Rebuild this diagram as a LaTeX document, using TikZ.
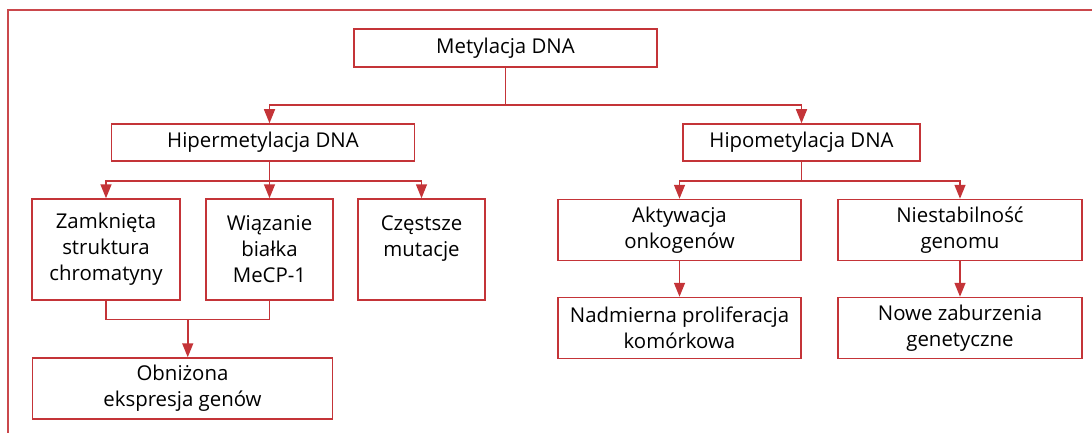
\documentclass[tikz,border=0pt]{standalone}
\usepackage{fontspec}
\setmainfont{Open Sans}
\usetikzlibrary{arrows.meta,calc,positioning}
\definecolor{boxred}{RGB}{196,52,56}

\begin{document}
\begin{tikzpicture}[
  x=0.5pt, y=-0.5pt,
  block/.style={rectangle, draw=boxred, line width=0.75pt, align=center,
    inner sep=2pt, font=\fontsize{10.2}{13}\selectfont},
  arr/.style={draw=boxred, line width=0.75pt, -{Triangle[width=5.5pt,length=7pt]}},
  link/.style={draw=boxred, line width=0.75pt}
  ]
  \useasboundingbox (0,0) rectangle (1092,433);
  \draw[boxred!90, line width=1pt] (8,433) -- (8,10.5) -- (1092,10.5);

  \node[block, minimum width=151.5pt, minimum height=19pt] (meta) at (505.5,48) {Metylacja DNA};
  \node[block, minimum width=151.5pt, minimum height=18.5pt] (hiper) at (263,142.5) {Hipermetylacja DNA};
  \node[block, minimum width=118.5pt, minimum height=18.5pt] (hipo) at (801.5,142.5) {Hipometylacja DNA};

  \node[block, minimum width=74pt, minimum height=50.5pt] (zamk) at (106,249.5) {Zamknięta\\struktura\\chromatyny};
  \node[block, minimum width=63.5pt, minimum height=50.5pt] (wiaz) at (269.5,249.5) {Wiązanie\\białka\\MeCP-1};
  \node[block, minimum width=63.5pt, minimum height=50.5pt] (czest) at (421.5,249.5) {Częstsze\\mutacje\\\phantom{M}};
  \node[block, minimum width=150pt, minimum height=30.5pt] (obniz) at (182.5,388.5) {Obniżona\\ekspresja genów};

  \node[block, minimum width=121.5pt, minimum height=30.5pt] (aktyw) at (679.5,230) {Aktywacja\\onkogenów};
  \node[block, minimum width=122pt, minimum height=30.5pt] (niest) at (960,230) {Niestabilność\\genomu};
  \node[block, minimum width=121.5pt, minimum height=30.5pt] (nadm) at (679.5,328) {Nadmierna proliferacja\\komórkowa};
  \node[block, minimum width=122pt, minimum height=30.5pt] (nowe) at (960,328) {Nowe zaburzenia\\genetyczne};

  \coordinate (join) at (187.75,319.5);

  \draw[link] (meta.south) -- (meta.south |- 0,105);
  \draw[arr] (meta.south |- 0,105) -| (hiper.north -| wiaz.north);
  \draw[arr] (meta.south |- 0,105) -| (hipo.north);

  \draw[link] (wiaz.north |- hiper.south) -- (wiaz.north |- 0,181);
  \draw[arr] (wiaz.north |- 0,181) -| (zamk.north);
  \draw[arr] (wiaz.north |- hiper.south) -- (wiaz.north);
  \draw[arr] (wiaz.north |- 0,181) -| (czest.north);

  \draw[link] (zamk.south) |- (join) -| (wiaz.south);
  \draw[arr] (join) -- (join |- obniz.north);

  \draw[link] (hipo.south) -- (hipo.south |- 0,181);
  \draw[arr] (hipo.south |- 0,181) -| (aktyw.north);
  \draw[arr] (hipo.south |- 0,181) -| (niest.north);

  \draw[arr] (aktyw) -- (nadm);
  \draw[arr] (niest) -- (nowe);
\end{tikzpicture}
\end{document}
